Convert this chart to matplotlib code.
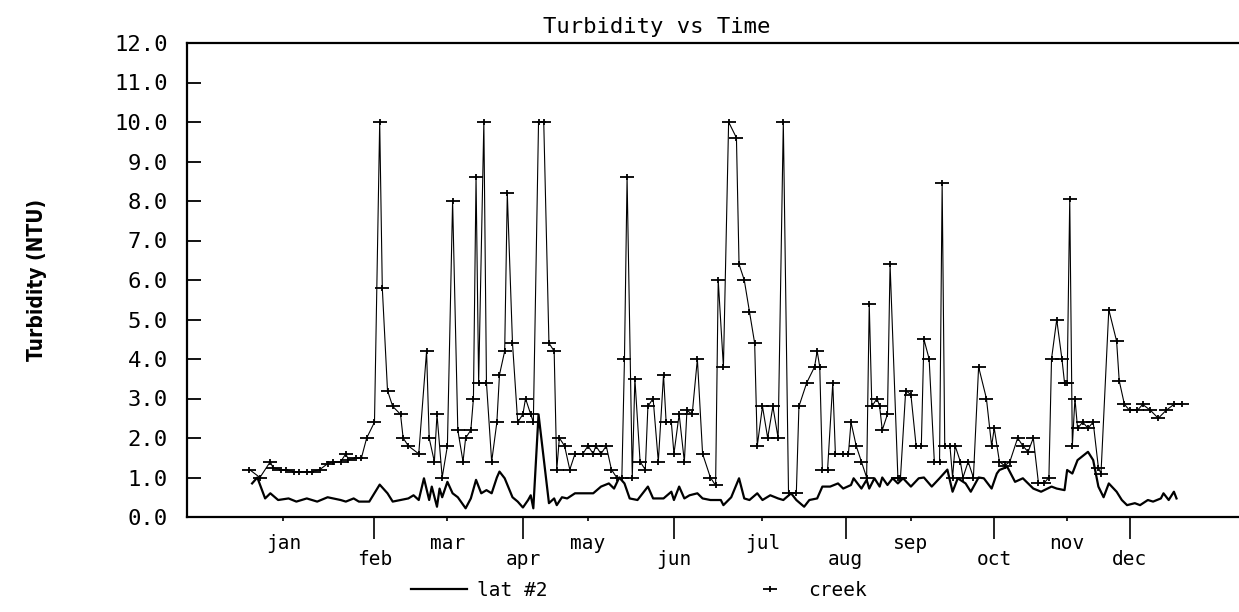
import numpy as np
import matplotlib
matplotlib.use("Agg")
import matplotlib.pyplot as plt
from matplotlib.path import Path
from matplotlib.ticker import FormatStrFormatter

# day of year for each sample
creek_day = [0, 4, 8, 9, 12, 14, 17, 19, 22, 24,
             27, 30, 32, 35, 37, 38, 41, 43, 45, 48,
             50, 51, 53, 55, 58, 59, 61, 65, 68, 69,
             71, 72, 74, 76, 78, 80, 82, 83, 85, 86,
             87, 88, 90, 91, 93, 95, 96, 98, 99, 101,
             103, 105, 106, 108, 109, 111, 113, 115, 117, 118,
             119, 121, 123, 125, 128, 130, 132, 133, 135, 137,
             139, 141, 143, 144, 145, 147, 148, 150, 152, 153,
             155, 157, 159, 160, 162, 163, 165, 167, 168, 170,
             172, 174, 177, 179, 180, 182, 184, 187, 188, 190,
             192, 194, 195, 197, 199, 201, 203, 205, 207, 210,
             211, 214, 217, 218, 219, 220, 222, 224, 225, 228,
             230, 231, 233, 235, 237, 238, 239, 241, 242, 243,
             245, 246, 249, 250, 252, 254, 256, 258, 259, 261,
             263, 265, 266, 267, 269, 270, 271, 273, 274, 276,
             278, 280, 283, 285, 286, 288, 290, 292, 295, 297,
             299, 301, 303, 305, 307, 308, 310, 312, 313, 314,
             315, 316, 317, 318, 320, 322, 324, 326, 327, 330,
             333, 334, 336, 338, 341, 343, 346, 349, 352, 355,
             358]
creek_ntu = [1.2, 1.0, 1.4, 1.25, 1.2, 1.2, 1.15, 1.15, 1.15, 1.15,
             1.2, 1.35, 1.4, 1.4, 1.6, 1.45, 1.5, 1.5, 2.0, 2.4,
             10.0, 5.8, 3.2, 2.8, 2.6, 2.0, 1.8, 1.6, 4.2, 2.0,
             1.4, 2.6, 1.0, 1.8, 8.0, 2.2, 1.4, 2.0, 2.2, 3.0,
             8.6, 3.4, 10.0, 3.4, 1.4, 2.4, 3.6, 4.2, 8.2, 4.4,
             2.4, 2.6, 3.0, 2.6, 2.4, 10.0, 10.0, 4.4, 4.2, 1.2,
             2.0, 1.8, 1.2, 1.6, 1.6, 1.8, 1.6, 1.8, 1.6, 1.8,
             1.2, 1.0, 1.0, 4.0, 8.6, 1.0, 3.5, 1.4, 1.2, 2.8,
             3.0, 1.4, 3.6, 2.4, 2.4, 1.6, 2.6, 1.4, 2.7, 2.6,
             4.0, 1.6, 1.0, 0.8, 6.0, 3.8, 10.0, 9.6, 6.4, 6.0,
             5.2, 4.4, 1.8, 2.8, 2.0, 2.8, 2.0, 10.0, 0.6, 0.6,
             2.8, 3.4, 3.8, 4.2, 3.8, 1.2, 1.2, 3.4, 1.6, 1.6,
             1.6, 2.4, 1.8, 1.4, 1.0, 5.4, 2.8, 3.0, 2.8, 2.2,
             2.6, 6.4, 1.0, 1.0, 3.2, 3.1, 1.8, 1.8, 4.5, 4.0,
             1.4, 1.4, 8.45, 1.8, 1.8, 1.0, 1.8, 1.4, 1.0, 1.4,
             1.0, 3.8, 3.0, 1.8, 2.25, 1.4, 1.3, 1.4, 2.0, 1.8,
             1.65, 2.0, 0.85, 0.85, 1.0, 4.0, 5.0, 4.0, 3.4, 3.4,
             8.05, 1.8, 3.0, 2.25, 2.4, 2.25, 2.4, 1.25, 1.1, 5.25,
             4.45, 3.45, 2.85, 2.7, 2.7, 2.85, 2.7, 2.5, 2.7, 2.85,
             2.85]

lat_day = [1, 3, 6, 8, 11, 15, 18, 22, 26, 30,
           35, 37, 40, 42, 46, 50, 53, 55, 58, 61,
           63, 65, 67, 69, 70, 72, 73, 74, 76, 78,
           80, 83, 85, 87, 89, 91, 93, 95, 96, 98,
           101, 103, 105, 107, 108, 109, 111, 115, 117, 118,
           120, 122, 125, 128, 132, 135, 138, 140, 142, 144,
           146, 149, 153, 155, 159, 162, 163, 165, 167, 169,
           172, 174, 177, 181, 182, 185, 188, 190, 192, 195,
           197, 200, 203, 205, 208, 210, 213, 215, 218, 220,
           223, 226, 228, 231, 232, 235, 237, 238, 240, 242,
           243, 245, 247, 249, 251, 254, 257, 259, 262, 265,
           268, 270, 272, 275, 277, 280, 282, 285, 287, 288,
           291, 294, 297, 299, 301, 304, 308, 310, 313, 314,
           316, 318, 322, 324, 326, 328, 330, 333, 335, 337,
           340, 342, 345, 347, 350, 351, 353, 355, 356]
lat_ntu = [0.85, 1.0, 0.47, 0.6, 0.43, 0.47, 0.39, 0.47, 0.39, 0.5,
           0.43, 0.39, 0.47, 0.39, 0.39, 0.82, 0.6, 0.39, 0.43, 0.47,
           0.55, 0.43, 0.98, 0.43, 0.77, 0.26, 0.72, 0.5, 0.89, 0.6,
           0.5, 0.22, 0.47, 0.94, 0.6, 0.68, 0.6, 1.0, 1.15, 0.98,
           0.5, 0.39, 0.24, 0.43, 0.55, 0.22, 2.6, 0.35, 0.47, 0.3,
           0.5, 0.47, 0.6, 0.6, 0.6, 0.77, 0.85, 0.72, 1.0, 0.85,
           0.47, 0.43, 0.77, 0.47, 0.47, 0.64, 0.43, 0.77, 0.47, 0.55,
           0.6, 0.47, 0.43, 0.43, 0.3, 0.5, 0.98, 0.47, 0.43, 0.6,
           0.43, 0.55, 0.47, 0.43, 0.6, 0.43, 0.26, 0.43, 0.47, 0.77,
           0.77, 0.85, 0.72, 0.81, 0.98, 0.72, 0.94, 0.72, 0.98, 0.77,
           1.0, 0.81, 0.98, 0.85, 0.98, 0.77, 0.98, 1.0, 0.77, 0.98,
           1.2, 0.64, 0.98, 0.85, 0.64, 1.0, 0.98, 0.72, 1.1, 1.19,
           1.27, 0.89, 0.98, 0.85, 0.72, 0.64, 0.77, 0.72, 0.68, 1.19,
           1.1, 1.44, 1.65, 1.44, 0.77, 0.5, 0.85, 0.64, 0.43, 0.3,
           0.35, 0.3, 0.43, 0.39, 0.47, 0.6, 0.43, 0.64, 0.47]

# month labels alternate between two rows under the axis
upper_days = [13, 76, 130, 197, 254, 314]
upper_labels = ["jan", "mar", "may", "jul", "sep", "nov"]
lower_days = [48, 105, 163, 229, 286, 338]
lower_labels = ["feb", "apr", "jun", "aug", "oct", "dec"]

# wide flat plus, like the plotter's marker
plus = Path([(-1, 0), (1, 0), (0, -0.5), (0, 0.5)],
            [Path.MOVETO, Path.LINETO, Path.MOVETO, Path.LINETO])

plotter = "DejaVu Sans Mono"

fig = plt.figure(figsize=(12.39, 6.12), dpi=100)
ax = fig.add_axes([187 / 1239, 1 - 517 / 612, 1052 / 1239, 474 / 612])

lat_line, = ax.plot(lat_day, lat_ntu, color="black", lw=1.6, label="lat #2")
ax.plot(creek_day, creek_ntu, color="black", lw=0.8)
creek_pts, = ax.plot(creek_day, creek_ntu, ls="none", marker=plus, ms=10,
                     mew=1.3, mec="black", label="creek")

ax.set_xlim(-24, 380)
ax.set_ylim(0, 12)
ax.set_yticks(np.arange(0, 13, 1))
ax.yaxis.set_major_formatter(FormatStrFormatter("%.1f"))
ax.tick_params(axis="y", direction="in", length=10, width=1.3, pad=14,
               labelsize=16)

ax.set_xticks(upper_days, upper_labels)
ax.set_xticks(lower_days, lower_labels, minor=True)
ax.tick_params(axis="x", which="major", direction="out", length=3,
               width=1.2, pad=9, labelsize=14)
ax.tick_params(axis="x", which="minor", direction="out", length=16,
               width=1.2, pad=8, labelsize=14)
for lbl in ax.get_xticklabels(which="both") + ax.get_yticklabels():
    lbl.set_family(plotter)

for side in ["left", "bottom", "top"]:
    ax.spines[side].set_linewidth(1.6)
ax.spines["right"].set_visible(False)

ax.set_title("Turbidity vs Time", x=0.446, pad=7, fontsize=16, family=plotter)
ax.set_ylabel("Turbidity (NTU)", fontsize=15, fontstretch="condensed",
              fontweight="bold")
ax.yaxis.set_label_coords(-0.133, 0.5)

fig.legend(handles=[lat_line, creek_pts], loc="center left",
           bbox_to_anchor=(393 / 1239, 1 - 590 / 612), ncol=2, frameon=False,
           prop={"family": plotter, "size": 14}, handlelength=2.9,
           handletextpad=0.5, columnspacing=10)

fig.savefig("out.png", dpi=100)
